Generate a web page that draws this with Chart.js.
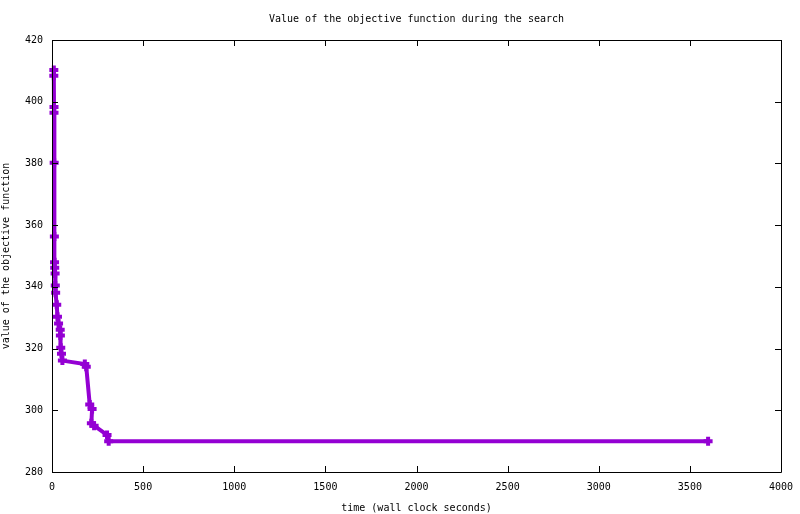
<!DOCTYPE html>
<html>
<head>
<meta charset="utf-8">
<script src="https://cdn.jsdelivr.net/npm/chart.js@4/dist/chart.umd.min.js"></script>
<style>
html,body{margin:0;padding:0;background:#fff;}
#wrap{width:800px;height:514px;}
</style>
</head>
<body>
<div id="wrap"><canvas id="c" width="800" height="514"></canvas></div>
<script>
const times  = [10, 10, 11, 11, 12, 13, 14, 15, 17, 18, 20, 26, 30, 36, 45, 46, 48, 52, 57, 180, 188, 207, 220, 216, 231, 302, 311, 3600];
const values = [410.3, 408.4, 398.3, 396.4, 380.2, 356.3, 348.0, 346.2, 344.3, 340.4, 338.1, 334.2, 330.3, 328.1, 326.1, 324.2, 320.3, 318.3, 316.1, 315.0, 314.1, 301.9, 300.4, 295.8, 295.0, 292.0, 290.0, 290.0];
const xTicks = [0, 500, 1000, 1500, 2000, 2500, 3000, 3500, 4000];
const yTicks = [280, 300, 320, 340, 360, 380, 400, 420];
const titleText = 'Value of the objective function during the search';
const xTitle = 'time (wall clock seconds)';
const yTitle = 'value of the objective function';

const points = times.map((t, i) => ({x: t, y: values[i]}));
const FONT = {family: '"DejaVu Sans Mono", monospace', size: 10, weight: 'normal'};

const frame = {
  id: 'frame',
  afterDraw(chart) {
    const ctx = chart.ctx, a = chart.chartArea;
    const xs = chart.scales.x, ys = chart.scales.y;
    ctx.save();
    ctx.strokeStyle = '#000';
    ctx.lineWidth = 1;
    ctx.beginPath();
    ctx.rect(Math.round(a.left) + 0.5, Math.round(a.top) + 0.5, Math.round(a.right - a.left), Math.round(a.bottom - a.top));
    ctx.stroke();
    ctx.beginPath();
    xTicks.forEach(v => {
      const px = Math.round(xs.getPixelForValue(v)) + 0.5;
      ctx.moveTo(px, a.bottom); ctx.lineTo(px, a.bottom - 6);
      ctx.moveTo(px, a.top); ctx.lineTo(px, a.top + 6);
    });
    yTicks.forEach(v => {
      const py = Math.round(ys.getPixelForValue(v)) + 0.5;
      ctx.moveTo(a.left, py); ctx.lineTo(a.left + 6, py);
      ctx.moveTo(a.right, py); ctx.lineTo(a.right - 6, py);
    });
    ctx.stroke();
    ctx.restore();
  }
};

new Chart(document.getElementById('c'), {
  type: 'scatter',
  data: {
    datasets: [{
      data: points,
      showLine: true,
      borderColor: '#9400d3',
      backgroundColor: '#9400d3',
      borderWidth: 4,
      pointStyle: 'cross',
      pointRadius: 4.5,
      pointBorderWidth: 4,
      pointBorderColor: '#9400d3',
      tension: 0,
      clip: false
    }]
  },
  options: {
    responsive: false,
    animation: false,
    devicePixelRatio: 1,
    layout: {padding: {left: 0, right: 19, top: 0, bottom: 0}},
    plugins: {
      legend: {display: false},
      tooltip: {enabled: false},
      title: {
        display: true,
        fullSize: false,
        text: titleText,
        color: '#000',
        font: FONT,
        padding: {top: 13, bottom: 15}
      }
    },
    scales: {
      x: {
        type: 'linear',
        min: 0, max: 4000,
        afterBuildTicks(s) { s.ticks = xTicks.map(v => ({value: v})); },
        afterFit(s) { s.height = 42; s.paddingLeft = 0; s.paddingRight = 0; },
        grid: {display: false, drawTicks: false},
        border: {display: false},
        ticks: {color: '#000', font: FONT, padding: 9, maxRotation: 0, callback: v => String(v)},
        title: {display: true, text: xTitle, color: '#000', font: FONT, padding: {top: 2, bottom: 0}}
      },
      y: {
        type: 'linear',
        min: 280, max: 420,
        afterBuildTicks(s) { s.ticks = yTicks.map(v => ({value: v})); },
        afterFit(s) { s.width = 52; s.paddingTop = 0; s.paddingBottom = 0; },
        grid: {display: false, drawTicks: false},
        border: {display: false},
        ticks: {color: '#000', font: FONT, padding: 9, callback: v => String(v)},
        title: {display: true, text: yTitle, color: '#000', font: FONT, padding: {top: 0, bottom: 0}}
      }
    }
  },
  plugins: [frame]
});
</script>
</body>
</html>
